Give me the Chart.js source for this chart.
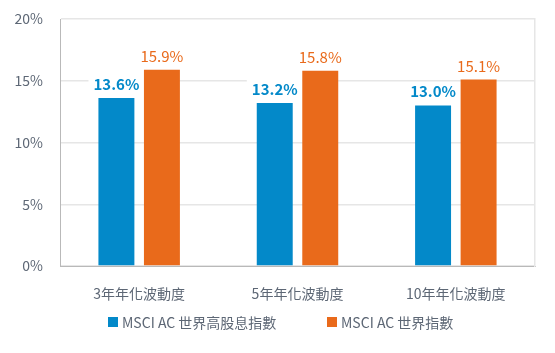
<!DOCTYPE html>
<html>
<head>
<meta charset="utf-8">
<script src="https://cdn.jsdelivr.net/npm/chart.js@4/dist/chart.umd.min.js"></script>
<style>
html,body{margin:0;padding:0;background:#fff;}
#wrap{width:555px;height:353px;position:relative;}
</style>
</head>
<body>
<div id="wrap"><canvas id="c" width="555" height="353"></canvas></div>
<script>
const categories = ['3年年化波動度', '5年年化波動度', '10年年化波動度'];
const seriesNames = ['MSCI AC 世界高股息指數', 'MSCI AC 世界指數'];
const highDividend = [13.6, 13.2, 13.0];
const worldIndex = [15.9, 15.8, 15.1];
const yTicks = [0, 5, 10, 15, 20];

const FONT = "'Noto Sans CJK TC', 'Noto Sans', sans-serif";
const BLUE = '#0389c9';
const ORANGE = '#e96a1b';
const GREY_TEXT = '#5d6775';

const labelPlugin = {
  id: 'barLabels',
  beforeDatasetsDraw(chart) {
    // white backgrounds behind labels (hide gridlines only, never bars)
    const ctx = chart.ctx;
    ctx.save();
    chart.data.datasets.forEach((ds, i) => {
      const meta = chart.getDatasetMeta(i);
      meta.data.forEach((bar, j) => {
        const txt = ds.data[j].toFixed(1) + '%';
        ctx.font = (ds.labelBold ? 'bold ' : '') + '15px ' + FONT;
        const w = ctx.measureText(txt).width;
        const base = bar.y - 8;
        ctx.fillStyle = '#ffffff';
        ctx.fillRect(bar.x - w / 2 - 5, base - 15, w + 10, 19);
      });
    });
    ctx.restore();
  },
  afterDatasetsDraw(chart) {
    const ctx = chart.ctx;
    ctx.save();
    chart.data.datasets.forEach((ds, i) => {
      const meta = chart.getDatasetMeta(i);
      meta.data.forEach((bar, j) => {
        const txt = ds.data[j].toFixed(1) + '%';
        ctx.font = (ds.labelBold ? 'bold ' : '') + '15px ' + FONT;
        ctx.fillStyle = ds.backgroundColor;
        ctx.textAlign = 'center';
        ctx.textBaseline = 'alphabetic';
        ctx.fillText(txt, bar.x, bar.y - 8);
      });
    });
    ctx.restore();
  }
};

const legendPlugin = {
  id: 'customLegend',
  afterDraw(chart) {
    const ctx = chart.ctx;
    ctx.save();
    ctx.font = '14px ' + FONT;
    ctx.textBaseline = 'middle';
    ctx.textAlign = 'left';
    const starts = [108, 327];
    const y = 323;
    chart.data.datasets.forEach((ds, i) => {
      const x = starts[i];
      ctx.fillStyle = ds.backgroundColor;
      ctx.fillRect(x, y - 6, 10, 10);
      ctx.fillStyle = GREY_TEXT;
      ctx.fillText(ds.label, x + 14, y);
    });
    ctx.restore();
  }
};

new Chart(document.getElementById('c'), {
  type: 'bar',
  data: {
    labels: categories,
    datasets: [
      { label: seriesNames[0], data: highDividend, backgroundColor: BLUE, labelBold: true,
        categoryPercentage: 0.575, barPercentage: 0.79 },
      { label: seriesNames[1], data: worldIndex, backgroundColor: ORANGE, labelBold: false,
        categoryPercentage: 0.575, barPercentage: 0.79 }
    ]
  },
  options: {
    responsive: false,
    animation: false,
    layout: { padding: { top: 19, right: 20, left: 0, bottom: 0 } },
    plugins: { legend: { display: false }, tooltip: { enabled: false } },
    scales: {
      x: {
        grid: { display: false, drawTicks: false },
        border: { display: true, color: '#b9b9b9', width: 1 },
        ticks: { color: GREY_TEXT, font: { family: FONT, size: 14 }, padding: 19 },
        afterFit(scale) { scale.height = 87; }
      },
      y: {
        min: 0, max: 20,
        afterBuildTicks(scale) { scale.ticks = yTicks.map(v => ({ value: v })); },
        grid: { color: '#e6e6e6', drawTicks: true, tickLength: 17, tickColor: 'rgba(0,0,0,0)', lineWidth: 1.5 },
        border: { display: true, color: '#b9b9b9', width: 1 },
        ticks: { color: GREY_TEXT, font: { family: FONT, size: 14 }, padding: 0,
          callback: v => v + '%' },
        afterFit(scale) { scale.width = 60; }
      },
      y2: {
        position: 'right', min: 0, max: 20,
        grid: { display: false, drawTicks: false },
        border: { display: true, color: '#e6e6e6', width: 1.5 },
        ticks: { display: false },
        afterFit(scale) { scale.width = 0; }
      }
    }
  },
  plugins: [labelPlugin, legendPlugin]
});
</script>
</body>
</html>
